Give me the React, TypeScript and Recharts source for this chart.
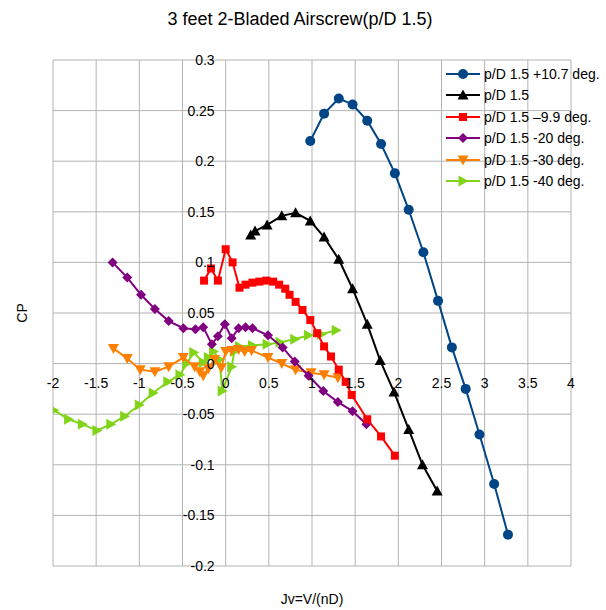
import { ScatterChart, Scatter, XAxis, YAxis, CartesianGrid, Legend } from "recharts";

const X_TICKS = [-2, -1.5, -1, -0.5, 0, 0.5, 1, 1.5, 2, 2.5, 3, 3.5, 4];
const Y_TICKS = [-0.2, -0.15, -0.1, -0.05, 0, 0.05, 0.1, 0.15, 0.2, 0.25, 0.3];

// p/D 1.5 +10.7 deg.
const jvPlus107 = [0.98, 1.14, 1.31, 1.47, 1.64, 1.8, 1.96, 2.12, 2.29, 2.46, 2.62, 2.78, 2.94, 3.11, 3.27];
const cpPlus107 = [0.22, 0.247, 0.262, 0.256, 0.24, 0.217, 0.188, 0.152, 0.11, 0.062, 0.016, -0.025, -0.07, -0.119, -0.169];

// p/D 1.5
const jvBase = [0.29, 0.34, 0.48, 0.65, 0.81, 0.98, 1.14, 1.31, 1.47, 1.64, 1.79, 1.95, 2.12, 2.28, 2.45];
const cpBase = [0.127, 0.131, 0.137, 0.146, 0.149, 0.141, 0.125, 0.103, 0.074, 0.039, 0.003, -0.028, -0.065, -0.1, -0.126];

// p/D 1.5 -9.9 deg.
const jvMinus99 = [-0.25, -0.17, -0.09, 0.0, 0.08, 0.16, 0.23, 0.31, 0.39, 0.47, 0.55, 0.62, 0.69, 0.74, 0.81, 0.89, 0.98, 1.06, 1.14, 1.22, 1.31, 1.39, 1.46, 1.64, 1.8, 1.96];
const cpMinus99 = [0.082, 0.094, 0.082, 0.113, 0.1, 0.075, 0.078, 0.08, 0.081, 0.082, 0.081, 0.078, 0.074, 0.068, 0.061, 0.053, 0.043, 0.03, 0.017, 0.007, -0.006, -0.018, -0.031, -0.055, -0.072, -0.091];

// p/D 1.5 -20 deg.
const jvMinus20 = [-1.31, -1.14, -0.98, -0.82, -0.66, -0.49, -0.35, -0.26, -0.16, -0.09, -0.01, 0.07, 0.15, 0.23, 0.31, 0.49, 0.66, 0.8, 0.96, 1.13, 1.3, 1.47, 1.63];
const cpMinus20 = [0.1, 0.085, 0.068, 0.054, 0.042, 0.035, 0.034, 0.036, 0.019, 0.027, 0.039, 0.025, 0.035, 0.036, 0.035, 0.028, 0.016, 0.002, -0.012, -0.027, -0.038, -0.047, -0.06];

// p/D 1.5 -30 deg.
const jvMinus30 = [-1.3, -1.14, -0.99, -0.82, -0.66, -0.49, -0.36, -0.3, -0.26, -0.2, -0.13, -0.05, 0.0, 0.07, 0.15, 0.22, 0.3, 0.49, 0.65, 0.81, 0.99, 1.14, 1.3];
const cpMinus30 = [0.015, 0.005, -0.006, -0.008, -0.003, 0.006, -0.003, -0.008, -0.012, -0.005, 0.004, -0.004, 0.012, 0.013, 0.014, 0.012, 0.013, 0.006, 0.0, -0.006, -0.009, -0.011, -0.014];

// p/D 1.5 -40 deg.
const jvMinus40 = [-1.99, -1.82, -1.66, -1.49, -1.33, -1.17, -1.0, -0.84, -0.67, -0.53, -0.45, -0.37, -0.26, -0.2, -0.14, -0.07, -0.04, 0.07, 0.1, 0.16, 0.31, 0.48, 0.63, 0.8, 0.96, 1.11, 1.28];
const cpMinus40 = [-0.046, -0.055, -0.06, -0.066, -0.06, -0.052, -0.041, -0.029, -0.018, -0.011, 0.0, 0.011, 0.001, 0.006, 0.012, 0.004, -0.027, -0.003, 0.012, 0.017, 0.018, 0.019, 0.021, 0.024, 0.028, 0.029, 0.033];

const toPoints = (xs: number[], ys: number[]) => xs.map((x, i) => ({ x, y: ys[i] }));

type Kind = "circle" | "up" | "square" | "diamond" | "down" | "right";

const SERIES: { name: string; color: string; kind: Kind; data: { x: number; y: number }[] }[] = [
  { name: "p/D 1.5 +10.7 deg.", color: "#004586", kind: "circle", data: toPoints(jvPlus107, cpPlus107) },
  { name: "p/D 1.5", color: "#000000", kind: "up", data: toPoints(jvBase, cpBase) },
  { name: "p/D 1.5 \u20139.9 deg.", color: "#ff0000", kind: "square", data: toPoints(jvMinus99, cpMinus99) },
  { name: "p/D 1.5 -20 deg.", color: "#800080", kind: "diamond", data: toPoints(jvMinus20, cpMinus20) },
  { name: "p/D 1.5 -30 deg.", color: "#ff8000", kind: "down", data: toPoints(jvMinus30, cpMinus30) },
  { name: "p/D 1.5 -40 deg.", color: "#81d41a", kind: "right", data: toPoints(jvMinus40, cpMinus40) },
];

const W = 606;
const H = 610;
// axes get 1px each (a zero-sized axis skips its ticks), the rest is margin
const MARGIN = { top: 60, right: 35, bottom: 43, left: 52 };
const X_DOMAIN = [-2, 4];
const Y_DOMAIN = [-0.2, 0.3];
const PLOT_LEFT = MARGIN.left + 1;
const PLOT_W = W - PLOT_LEFT - MARGIN.right;
const PLOT_H = H - MARGIN.top - MARGIN.bottom - 1;
// axes cross at the origin, so the tick labels sit along x=0 / y=0
const ZERO_X = PLOT_LEFT + (PLOT_W * (0 - X_DOMAIN[0])) / (X_DOMAIN[1] - X_DOMAIN[0]);
const ZERO_Y = MARGIN.top + (PLOT_H * (Y_DOMAIN[1] - 0)) / (Y_DOMAIN[1] - Y_DOMAIN[0]);

const FONT = "'Liberation Sans', Arial, sans-serif";

function Marker({ cx, cy, kind, color }: { cx: number; cy: number; kind: Kind; color: string }) {
  switch (kind) {
    case "circle":
      return <circle cx={cx} cy={cy} r={5} fill={color} />;
    case "up":
      return <polygon points={`${cx},${cy - 5.5} ${cx + 5.5},${cy + 4.5} ${cx - 5.5},${cy + 4.5}`} fill={color} />;
    case "down":
      return <polygon points={`${cx},${cy + 5.5} ${cx + 5.5},${cy - 4.5} ${cx - 5.5},${cy - 4.5}`} fill={color} />;
    case "right":
      return <polygon points={`${cx + 5.5},${cy} ${cx - 4.5},${cy - 5.5} ${cx - 4.5},${cy + 5.5}`} fill={color} />;
    case "square":
      return <rect x={cx - 4} y={cy - 4} width={8} height={8} fill={color} />;
    case "diamond":
      return <polygon points={`${cx},${cy - 5} ${cx + 5},${cy} ${cx},${cy + 5} ${cx - 5},${cy}`} fill={color} />;
  }
  return null;
}

function XTick({ x, payload }: any) {
  return (
    <text x={x} y={ZERO_Y + 19} dy="0.35em" textAnchor="middle" fontSize={14} fontFamily={FONT} fill="#000">
      {String(payload.value)}
    </text>
  );
}

function YTick({ y, payload }: any) {
  return (
    <text x={ZERO_X - 11} y={y} dy="0.35em" textAnchor="end" fontSize={14} fontFamily={FONT} fill="#000">
      {String(payload.value)}
    </text>
  );
}

function LegendBox() {
  return (
    <div style={{ fontFamily: FONT, fontSize: 14, color: "#000" }}>
      {SERIES.map((s) => (
        <div key={s.name} style={{ display: "flex", alignItems: "center", height: 21.5 }}>
          <svg width={36} height={14} style={{ display: "block" }}>
            <line x1={1} x2={35} y1={7} y2={7} stroke={s.color} strokeWidth={2} />
            <Marker cx={18} cy={7} kind={s.kind} color={s.color} />
          </svg>
          <span style={{ marginLeft: 3, whiteSpace: "nowrap" }}>{s.name}</span>
        </div>
      ))}
    </div>
  );
}

export default function App() {
  return (
    <div style={{ position: "absolute", left: 0, top: 0, width: W, height: H, background: "#fff", fontFamily: FONT }}>
      <div style={{ position: "absolute", left: 0, width: W - 6, top: 8, textAlign: "center", fontSize: 18, lineHeight: "22px", color: "#000" }}>
        3 feet 2-Bladed Airscrew(p/D 1.5)
      </div>
      <ScatterChart width={W} height={H} margin={MARGIN}>
        <CartesianGrid stroke="#b3b3b3" strokeWidth={1} />
        <XAxis
          type="number"
          dataKey="x"
          domain={X_DOMAIN}
          ticks={X_TICKS}
          interval={0}
          axisLine={false}
          tickLine={false}
          height={1}
          tick={<XTick />}
          allowDataOverflow
        />
        <YAxis
          type="number"
          dataKey="y"
          domain={Y_DOMAIN}
          ticks={Y_TICKS}
          interval={0}
          axisLine={false}
          tickLine={false}
          width={1}
          tick={<YTick />}
          allowDataOverflow
        />
        <Legend
          layout="horizontal"
          align="center"
          verticalAlign="middle"
          width={160}
          wrapperStyle={{ left: 445, top: 63 }}
          content={() => <LegendBox />}
        />
        {[...SERIES].reverse().map((s) => (
          <Scatter
            key={s.name}
            name={s.name}
            data={s.data}
            fill={s.color}
            line={{ stroke: s.color, strokeWidth: 2 }}
            lineType="joint"
            isAnimationActive={false}
            shape={(p: any) => <Marker cx={p.cx} cy={p.cy} kind={s.kind} color={s.color} />}
          />
        ))}
      </ScatterChart>
      <div
        style={{
          position: "absolute",
          left: 22,
          top: 313,
          transform: "translate(-50%, -50%) rotate(-90deg)",
          fontSize: 14,
          whiteSpace: "nowrap",
        }}
      >
        CP
      </div>
      <div style={{ position: "absolute", left: 0, width: 624, top: 591, textAlign: "center", fontSize: 14 }}>
        Jv=V/(nD)
      </div>
    </div>
  );
}
